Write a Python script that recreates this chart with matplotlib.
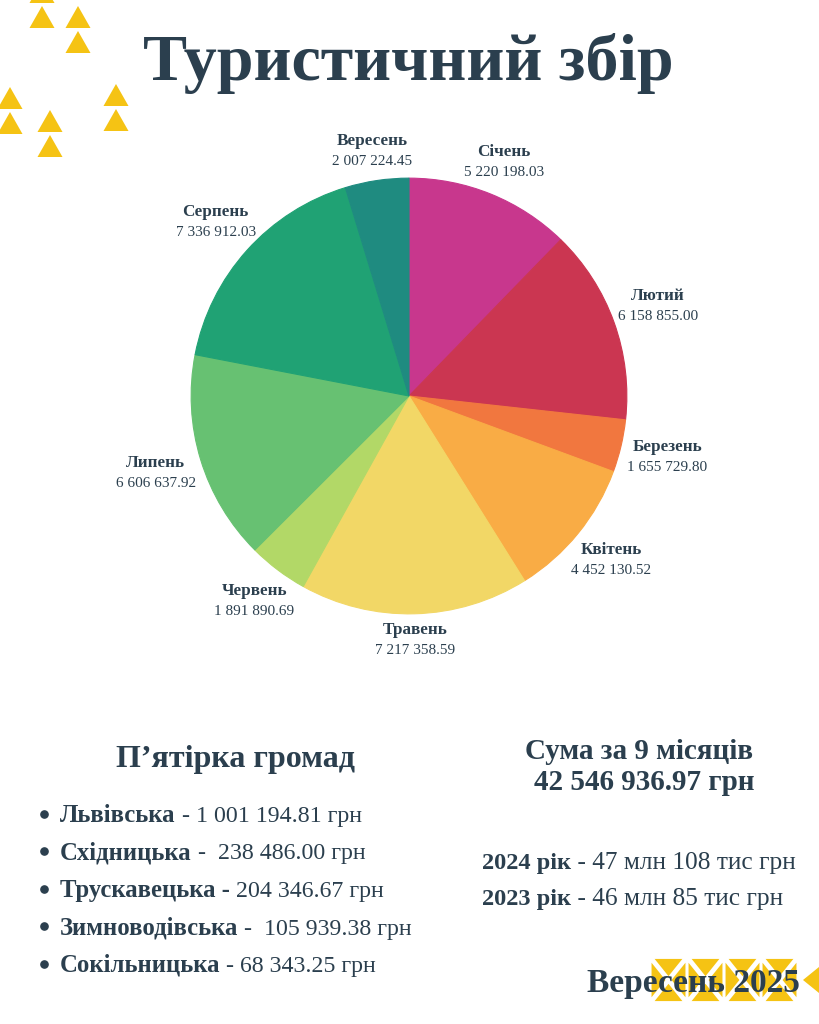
import matplotlib
matplotlib.use('Agg')
import matplotlib.pyplot as plt
import numpy as np
from matplotlib.patches import Polygon

# monthly tourist tax, UAH
months = ['Січень', 'Лютий', 'Березень', 'Квітень', 'Травень',
          'Червень', 'Липень', 'Серпень', 'Вересень']
amounts = [5220198.03, 6158855.00, 1655729.80, 4452130.52, 7217358.59,
           1891890.69, 6606637.92, 7336912.03, 2007224.45]
colors = ['#C8378D', '#CB3651', '#F1773F', '#F9AC45', '#F2D766',
          '#B2D867', '#67C172', '#20A274', '#1F8B80']

# top-5 communities
communities = ['Львівська', 'Східницька', 'Трускавецька -', 'Зимноводівська', 'Сокільницька']
community_rest = [' - 1 001 194.81 грн', ' -  238 486.00 грн', ' 204 346.67 грн',
                  ' -  105 939.38 грн', ' - 68 343.25 грн']

total_label = '42 546 936.97 грн'
prev_years = ['2024 рік', '2023 рік']
prev_values = [' - 47 млн 108 тис грн', ' - 46 млн 85 тис грн']

TXT = '#2B3F4E'
YEL = '#F5C314'
FONT = 'Liberation Serif'

plt.rcParams['font.family'] = [FONT, 'DejaVu Serif']

fig = plt.figure(figsize=(8.19, 10.24), dpi=100)
fig.patch.set_facecolor('white')

# overlay in pixel coords for text and decorations
ov = fig.add_axes([0, 0, 1, 1])
ov.set_xlim(0, 819)
ov.set_ylim(1024, 0)
ov.axis('off')


def tri_up(cx, cy, w=25, h=22):
    return Polygon([(cx - w / 2, cy + h / 2), (cx + w / 2, cy + h / 2), (cx, cy - h / 2)],
                   closed=True, color=YEL, lw=0)


for cx, cy in [(42, -8), (42, 17), (78, 17), (78, 42), (10, 98), (10, 123),
               (50, 121), (50, 146), (116, 95), (116, 120)]:
    ov.add_patch(tri_up(cx, cy))


def shrink(pts, f=0.75):
    pts = np.array(pts, dtype=float)
    cen = pts.mean(axis=0)
    return cen + (pts - cen) * f


# bottom right pattern: squares split along diagonals
cw, ch = 37, 46
y0 = 957
for i in range(4):
    x0 = 650 + i * cw
    c = (x0 + cw / 2, y0 + ch / 2)
    corners = [(x0, y0), (x0 + cw, y0), (x0 + cw, y0 + ch), (x0, y0 + ch)]
    for k in range(4):
        pts = [corners[k], corners[(k + 1) % 4], c]
        ov.add_patch(Polygon(shrink(pts), closed=True, color=YEL, lw=0))
ov.add_patch(Polygon([(819, 967), (819, 993), (803, 980)], closed=True, color=YEL, lw=0))

ov.text(408, 80, 'Туристичний збір', ha='center', va='baseline',
        fontsize=47.5, fontweight='bold', color=TXT)

# pie
ax = fig.add_axes([104 / 819, 323 / 1024, 610 / 819, 610 / 1024])
wedges, _ = ax.pie(amounts, colors=colors, startangle=90, counterclock=False,
                   radius=1.0)
for w in wedges:
    w.set_edgecolor(w.get_facecolor())
    w.set_linewidth(0.8)
ax.set_xlim(-1.4, 1.4)
ax.set_ylim(-1.4, 1.4)
ax.set_aspect('equal')
ax.axis('off')

for w, name, val in zip(wedges, months, amounts):
    th = np.deg2rad((w.theta1 + w.theta2) / 2)
    d = 1.12 + 0.1 * abs(np.cos(th))
    x, y = d * np.cos(th), d * np.sin(th)
    ax.text(x, y + 0.047, name, ha='center', va='center', fontsize=12.3,
            fontweight='bold', color=TXT)
    ax.text(x, y - 0.047, f'{val:,.2f}'.replace(',', ' '), ha='center', va='center',
            fontsize=11, color=TXT)

# left block
ov.text(236, 767, 'П’ятірка громад', ha='center', va='baseline',
        fontsize=23, fontweight='bold', color=TXT)
for i, (bold, rest) in enumerate(zip(communities, community_rest)):
    yb = 822 + i * 37.5
    ov.plot([44], [yb - 8.5], marker='o', markersize=5.2, color=TXT, lw=0)
    t = ov.text(60, yb, bold, ha='left', va='baseline', fontsize=17.8,
                fontweight='bold', color=TXT)
    ov.annotate(rest, xy=(1, 0), xycoords=t, ha='left', va='bottom',
                fontsize=17.2, color=TXT)

# right block
ov.text(639, 759, 'Сума за 9 місяців', ha='center', va='baseline',
        fontsize=21, fontweight='bold', color=TXT)
ov.text(644, 790, total_label, ha='center', va='baseline',
        fontsize=21, fontweight='bold', color=TXT)
for i, (bold, rest) in enumerate(zip(prev_years, prev_values)):
    yb = 869 + i * 36
    t = ov.text(482, yb, bold, ha='left', va='baseline', fontsize=17.6,
                fontweight='bold', color=TXT)
    ov.annotate(rest, xy=(1, 0), xycoords=t, ha='left', va='bottom',
                fontsize=18.3, color=TXT)

ov.text(800, 992, 'Вересень 2025', ha='right', va='baseline',
        fontsize=24, fontweight='bold', color=TXT, zorder=5)

fig.savefig('out.png', dpi=100, facecolor='white')
